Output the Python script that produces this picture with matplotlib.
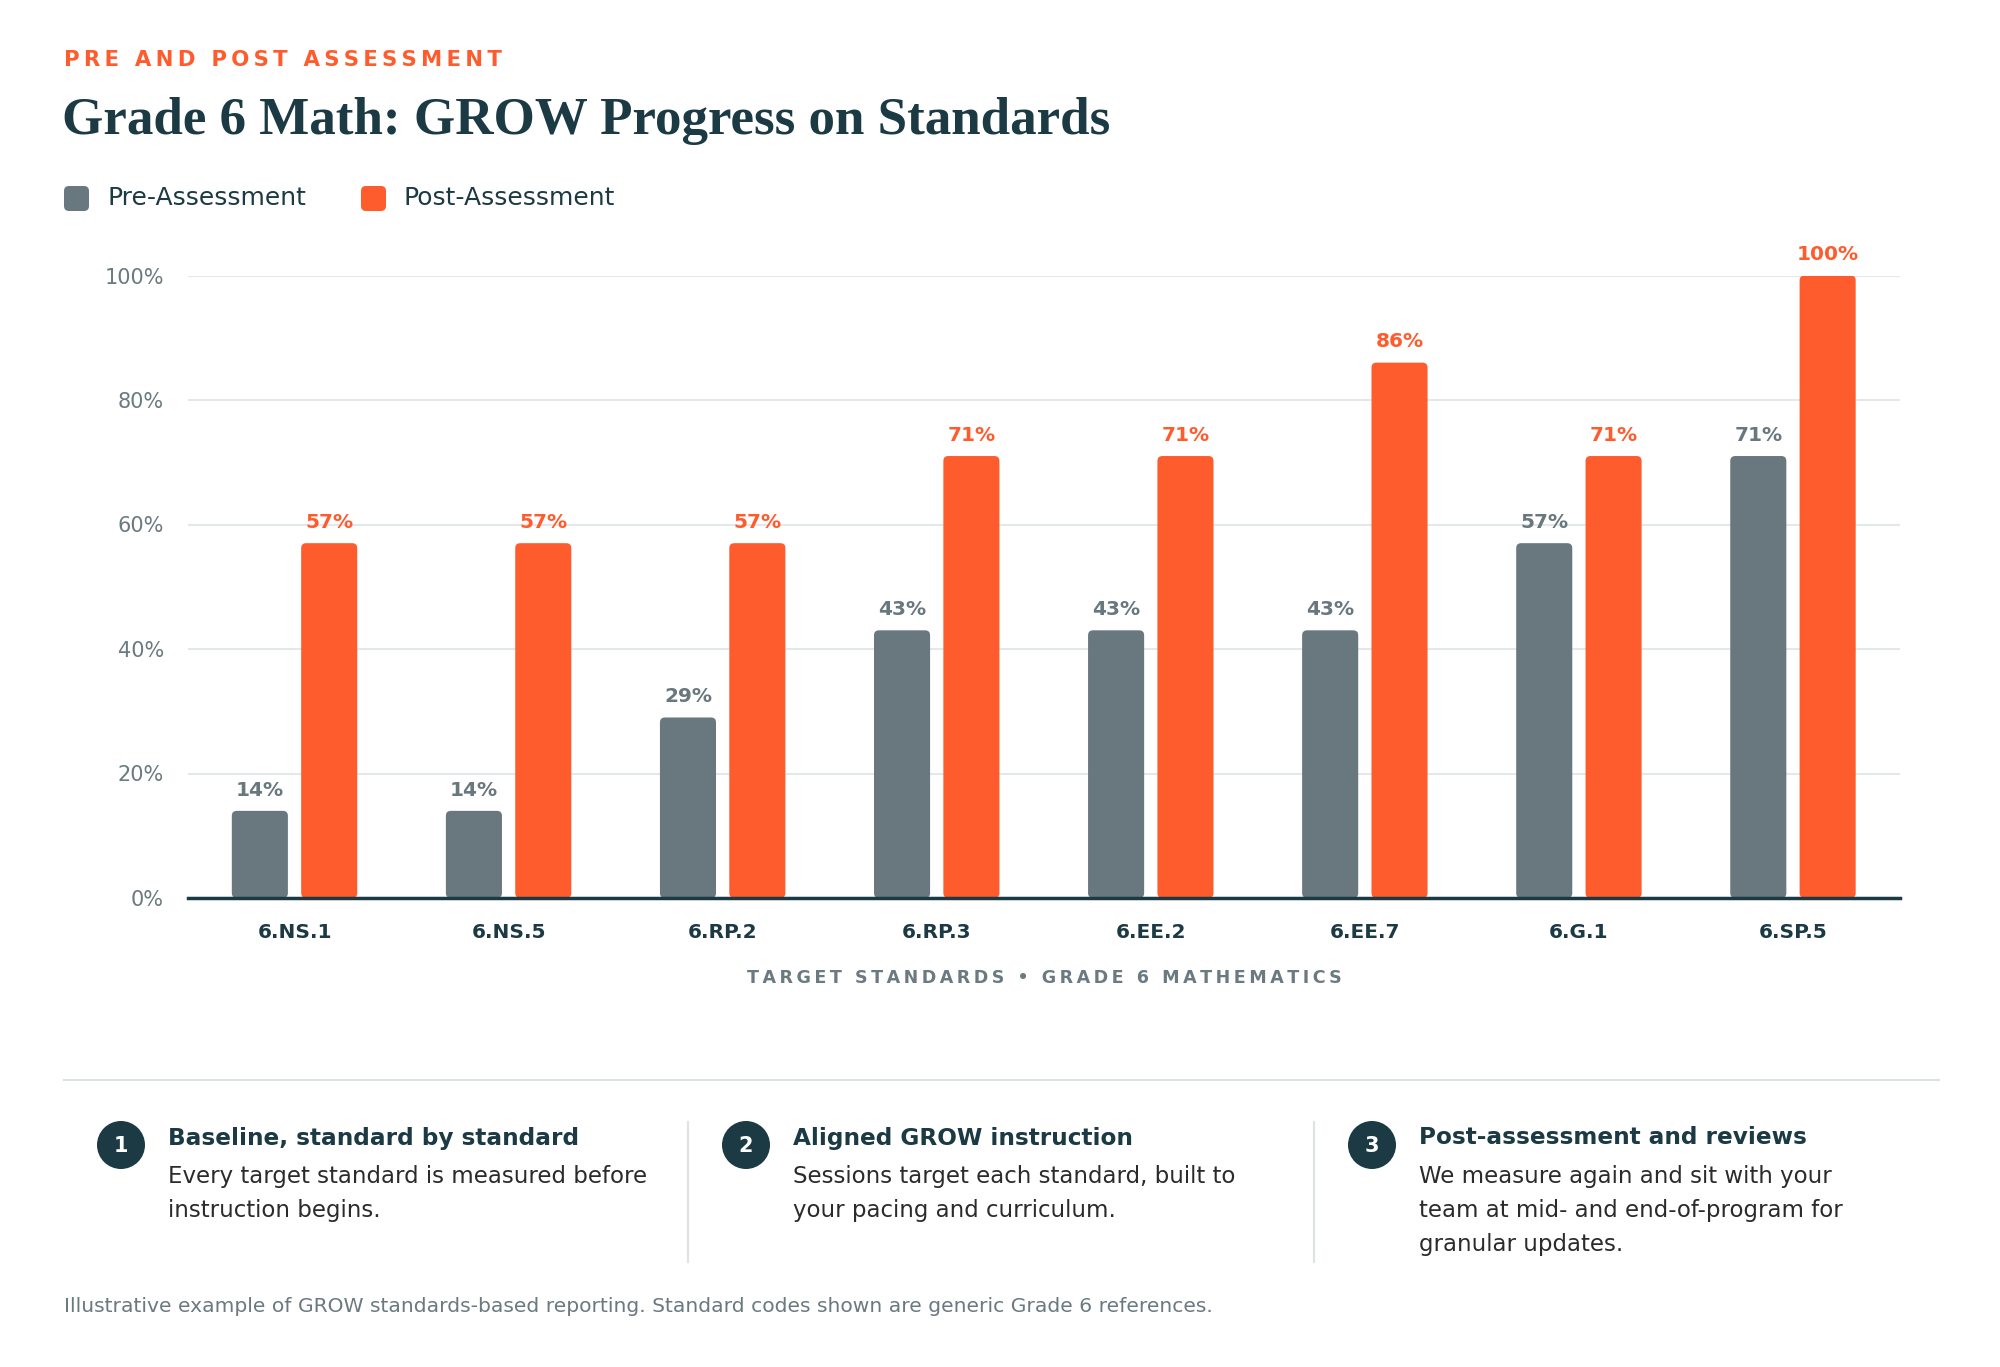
import numpy as np
import matplotlib.pyplot as plt
from matplotlib.patches import FancyBboxPatch, Circle

# data
standards = ['6.NS.1', '6.NS.5', '6.RP.2', '6.RP.3', '6.EE.2', '6.EE.7', '6.G.1', '6.SP.5']
pre = [14, 14, 29, 43, 43, 43, 57, 71]
post = [57, 57, 57, 71, 71, 86, 71, 100]
yticks = [0, 20, 40, 60, 80, 100]

step_nums = ['1', '2', '3']
step_heads = ['Baseline, standard by standard', 'Aligned GROW instruction', 'Post-assessment and reviews']
step_bodies = [
    ['Every target standard is measured before', 'instruction begins.'],
    ['Sessions target each standard, built to', 'your pacing and curriculum.'],
    ['We measure again and sit with your', 'team at mid- and end-of-program for', 'granular updates.'],
]

ORANGE = '#FF5C2E'
GRAY = '#68787E'
DARK = '#1B3A44'
MUTED = '#6A7A80'
GRID = '#E4E8EA'

plt.rcParams['font.family'] = ['DejaVu Sans']

W, H = 2000, 1367
fig = plt.figure(figsize=(20, 13.67), dpi=100)
fig.patch.set_facecolor('white')

# overlay axes in pixel coords for the decorations
ov = fig.add_axes([0, 0, 1, 1])
ov.set_xlim(0, W)
ov.set_ylim(H, 0)
ov.axis('off')
ov.patch.set_visible(False)


def spaced(s, sep='\u2009'):
    return sep.join(s)


ov.text(64, 60, spaced('PRE AND POST ASSESSMENT'), color=ORANGE, fontsize=15.3,
        fontweight='bold', va='center', ha='left')
ov.text(62, 121, 'Grade 6 Math: GROW Progress on Standards', color=DARK, fontsize=38.2,
        fontweight='bold', family='Liberation Serif', va='center', ha='left')

# legend
for xs, xt, col, lab in [(64, 108, GRAY, 'Pre-Assessment'), (361, 404, ORANGE, 'Post-Assessment')]:
    ov.add_patch(FancyBboxPatch((xs, 186), 25, 25, boxstyle='round,pad=0,rounding_size=5',
                                fc=col, ec='none'))
    ov.text(xt, 198, lab, color=DARK, fontsize=18, va='center', ha='left')

# main chart
ax = fig.add_axes([187.5 / W, 1 - 898 / H, (1900 - 187.5) / W, (898 - 275.5) / H])
ax.set_xlim(-0.5, 7.5)
ax.set_ylim(0, 100)
ax.patch.set_visible(False)

x = np.arange(len(standards))
bw = 0.262
off = 0.162
b1 = ax.bar(x - off, pre, bw, color=GRAY)
b2 = ax.bar(x + off, post, bw, color=ORANGE)

fig.canvas.draw()
bb = ax.get_window_extent()
px_x = bb.width / 8.0
px_y = bb.height / 100.0
aspect = px_x / px_y
r = 5 / px_x
for bars, col in [(b1, GRAY), (b2, ORANGE)]:
    for rect in bars:
        rect.set_visible(False)
        ax.add_patch(FancyBboxPatch((rect.get_x(), rect.get_y()), rect.get_width(), rect.get_height(),
                                    boxstyle=f'round,pad=0,rounding_size={r}', mutation_aspect=aspect,
                                    fc=col, ec='none', zorder=3))

for xi, v in zip(x, pre):
    ax.annotate(f'{v}%', (xi - off, v), xytext=(0, 15), textcoords='offset points',
                ha='center', va='center', color=GRAY, fontsize=14.5, fontweight='bold')
for xi, v in zip(x, post):
    ax.annotate(f'{v}%', (xi + off, v), xytext=(0, 15), textcoords='offset points',
                ha='center', va='center', color=ORANGE, fontsize=14.5, fontweight='bold',
                annotation_clip=False)

ax.set_yticks(yticks)
ax.set_yticklabels([f'{t}%' for t in yticks], color=MUTED, fontsize=15)
ax.set_xticks(x)
ax.set_xticklabels(standards, color=DARK, fontsize=14.5, fontweight='bold')
ax.tick_params(axis='y', length=0, pad=17)
ax.tick_params(axis='x', length=0, pad=18)
ax.yaxis.grid(True, color=GRID, lw=1.5, zorder=0)
ax.set_axisbelow(True)
for s in ['top', 'right', 'left']:
    ax.spines[s].set_visible(False)
ax.spines['bottom'].set_color(DARK)
ax.spines['bottom'].set_linewidth(2.5)
ax.spines['bottom'].set_zorder(5)

ov.text(1044, 978, spaced('TARGET STANDARDS \u2022 GRADE 6 MATHEMATICS'), color=MUTED,
        fontsize=12.6, fontweight='bold', ha='center', va='center')

# bottom section
ov.plot([64, 1939], [1080, 1080], color='#DDE2E4', lw=1.5)
for xd in [688, 1314]:
    ov.plot([xd, xd], [1122, 1262], color='#DDE2E4', lw=1.5)

circ_x = [121, 746, 1372]
for cx, num, head, body in zip(circ_x, step_nums, step_heads, step_bodies):
    ov.add_patch(Circle((cx, 1145), 24, fc=DARK, ec='none'))
    ov.text(cx, 1146, num, color='white', fontsize=15, fontweight='bold', ha='center', va='center')
    tx = cx + 47
    ov.text(tx, 1138, head, color=DARK, fontsize=16.7, fontweight='bold', ha='left', va='center')
    for i, line in enumerate(body):
        ov.text(tx, 1177 + i * 34, line, color='#2B2B2B', fontsize=16.5, ha='left', va='center')

ov.text(64, 1307, 'Illustrative example of GROW standards-based reporting. Standard codes shown are generic Grade 6 references.',
        color=MUTED, fontsize=14.6, ha='left', va='center')

fig.savefig('out.png', dpi=100, facecolor='white')
